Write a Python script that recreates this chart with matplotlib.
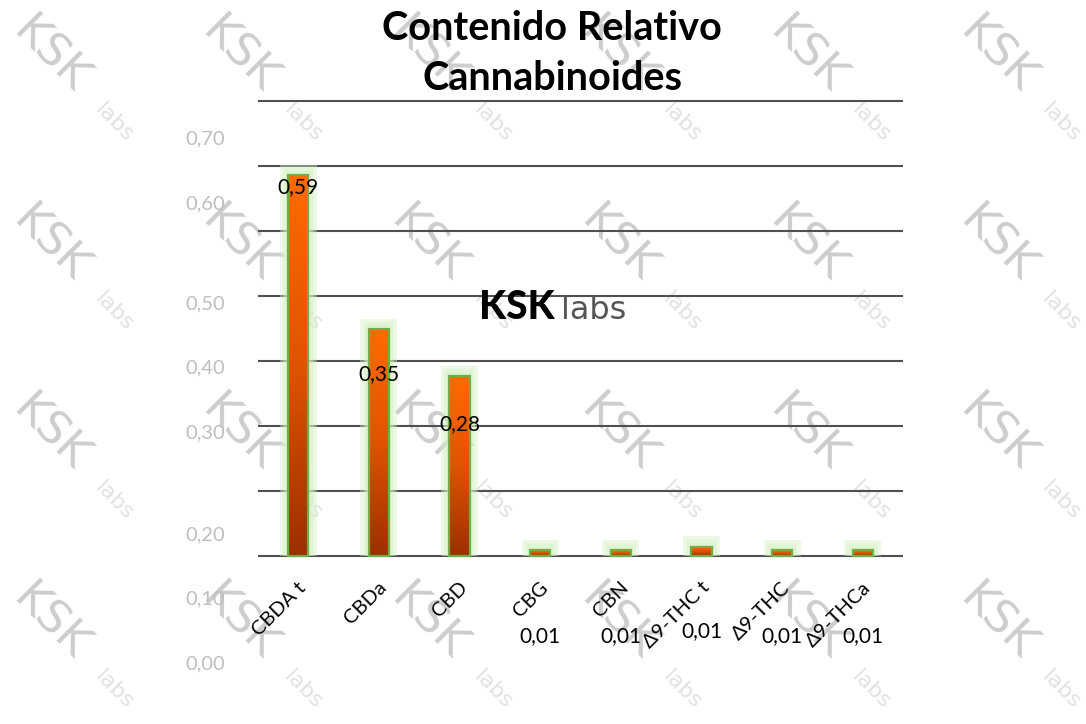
import numpy as np
import matplotlib
matplotlib.use("Agg")
import matplotlib.pyplot as plt
from matplotlib.colors import LinearSegmentedColormap

plt.rcParams['font.family'] = ['Lato', 'DejaVu Sans']

# data
categories = ['CBDA t', 'CBDa', 'CBD', 'CBG', 'CBN', 'Δ9-THC t', 'Δ9-THC', 'Δ9-THCa']
values = [0.586, 0.349, 0.277, 0.008, 0.008, 0.014, 0.008, 0.008]
ytick_labels = ['0,70', '0,60', '0,50', '0,40', '0,30', '0,20', '0,10', '0,00']

# layout (the source chart draws its tick labels off the gridlines)
ytick_pos = [0.644, 0.544, 0.391, 0.291, 0.191, 0.035, -0.064, -0.164]
label_offset_px = [-12, -45, -48, -86, -86, -84, -86, -86]

W, H = 1086, 724
fig = plt.figure(figsize=(W / 100, H / 100), dpi=100)
ax = fig.add_axes([258 / W, 1 - 672.5 / H, (903 - 258) / W, (672.5 - 88.4) / H])
ax.set_facecolor('none')

x = np.arange(len(categories))
vals = np.array(values)

# light green glow round the bars
for w, g in [(0.46, 0.016), (0.38, 0.011), (0.31, 0.006)]:
    ax.bar(x, vals + g, width=w, color='#d3f0c2', alpha=0.4, lw=0, zorder=2)

bars = ax.bar(x, vals, width=0.25, color='none', edgecolor='#70ad47', lw=1.6, zorder=4)
cmap = LinearSegmentedColormap.from_list('bar', ['#9e2f00', '#e05300', '#ff6a00'])
grad = np.linspace(0, 1, 256).reshape(-1, 1)
for b in bars:
    x0, y0 = b.get_x(), b.get_y()
    im = ax.imshow(grad, cmap=cmap, origin='lower', aspect='auto', zorder=3,
                   extent=[x0, x0 + b.get_width(), y0, y0 + b.get_height()])
    im.set_clip_path(b)

ax.set_xlim(-0.5, len(categories) - 0.5)
ax.set_ylim(-0.18, 0.72)

# gridlines on minor ticks, labels on major ticks
ax.set_yticks(np.arange(0, 0.71, 0.1), minor=True)
ax.set_yticks(ytick_pos, ytick_labels)
ax.tick_params(axis='y', which='both', length=0, pad=24, labelsize=14.5, labelcolor='#bfbfbf')
ax.grid(axis='y', which='minor', color='#505050', lw=1.5, zorder=1)
ax.grid(axis='y', which='major', visible=False)
ax.set_xticks([])
for s in ax.spines.values():
    s.set_visible(False)

# value labels
for xi, v, off in zip(x, vals, label_offset_px):
    ax.annotate(f'{v:.2f}'.replace('.', ','), (xi, v), xytext=(0, off),
                textcoords='offset pixels', ha='center', va='center',
                fontsize=15, color='black', zorder=6)

# category labels
for xi, c in zip(x, categories):
    ax.text(xi + 0.06, -0.045, c, rotation=45, rotation_mode='anchor',
            ha='right', va='center', fontsize=14.5, color='black', zorder=6)

# centre logo
ax.text(3.18, 0.383, 'KSK', fontsize=28, fontweight='black', color='black',
        ha='right', va='center', zorder=6)
ax.text(3.26, 0.378, 'labs', fontsize=23, family='DejaVu Sans', color='#555555',
        ha='left', va='center', zorder=6)

# title
fig.text(552 / W, 1 - 29 / H, 'Contenido Relativo', fontsize=28.5, fontweight='bold',
         ha='center', va='center')
fig.text(552 / W, 1 - 79 / H, 'Cannabinoides', fontsize=28.5, fontweight='bold',
         ha='center', va='center')

# watermarks, behind the chart
for i in range(6):
    for j in range(4):
        cx, cy = 50 + 189.4 * i, 55 + 189 * j
        fig.text(cx / W, 1 - cy / H, 'KSK', rotation=-45, fontsize=32, color='#cdcdcd',
                 family='DejaVu Sans', ha='center', va='center', zorder=-1)
        fig.text((cx + 64) / W, 1 - (cy + 68) / H, 'labs', rotation=-45, fontsize=16,
                 family='DejaVu Sans', color='#e2e2e2', ha='center', va='center', zorder=-1)

fig.savefig('out.png', dpi=100)
